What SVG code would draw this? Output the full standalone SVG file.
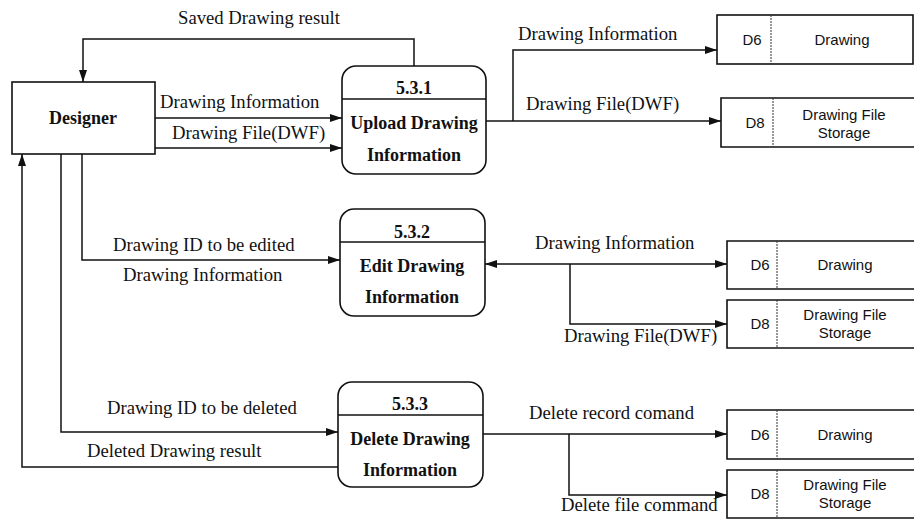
<svg xmlns="http://www.w3.org/2000/svg" width="914" height="522" viewBox="0 0 914 522">
<defs>
<style>
.bg{fill:#fff}
.box{fill:#fff;stroke:#111;stroke-width:1.6}
.ln{fill:none;stroke:#111;stroke-width:1.5}
.div{stroke:#111;stroke-width:1.5}
.dot{stroke:#333;stroke-width:1;stroke-dasharray:2,1}
.lbl{font-family:"Liberation Serif","Times New Roman",serif;font-size:18.7px;fill:#111}
.bold{font-family:"Liberation Serif","Times New Roman",serif;font-size:18px;font-weight:bold;fill:#111;text-anchor:middle}
.st{font-family:"Liberation Sans",Arial,sans-serif;font-size:15px;fill:#111;text-anchor:middle}
</style>
<marker id="arr" markerWidth="12" markerHeight="8" refX="12" refY="4" orient="auto-start-reverse" markerUnits="userSpaceOnUse">
<path d="M0,0 L12,4 L0,8 Z" fill="#111"/>
</marker>
</defs>
<rect class="bg" x="0" y="0" width="914" height="522"/>

<g id="connectors">
<path class="ln" d="M414,66 V39 H83 V82" marker-end="url(#arr)"/>
<path class="ln" d="M155,118 H342" marker-end="url(#arr)"/>
<path class="ln" d="M155,148 H342" marker-end="url(#arr)"/>
<path class="ln" d="M486,121 H721" marker-end="url(#arr)"/>
<path class="ln" d="M513,121 V50 H717" marker-end="url(#arr)"/>
<path class="ln" d="M82,154 V260 H340" marker-end="url(#arr)"/>
<path class="ln" d="M61,154 V432 H338" marker-end="url(#arr)"/>
<path class="ln" d="M338,467 H22 V154" marker-end="url(#arr)"/>
<path class="ln" d="M485,264 H727" marker-start="url(#arr)" marker-end="url(#arr)"/>
<path class="ln" d="M570,264 V324 H727" marker-end="url(#arr)"/>
<path class="ln" d="M483,434 H727" marker-end="url(#arr)"/>
<path class="ln" d="M569,434 V495 H727" marker-end="url(#arr)"/>
</g>

<g id="labels">
<text class="lbl" x="178" y="24">Saved Drawing result</text>
<text class="lbl" x="160" y="108">Drawing Information</text>
<text class="lbl" x="172" y="139">Drawing File(DWF)</text>
<text class="lbl" x="518" y="40">Drawing Information</text>
<text class="lbl" x="526" y="110">Drawing File(DWF)</text>
<text class="lbl" x="113" y="251">Drawing ID to be edited</text>
<text class="lbl" x="123" y="281">Drawing Information</text>
<text class="lbl" x="535" y="249">Drawing Information</text>
<text class="lbl" x="564" y="342">Drawing File(DWF)</text>
<text class="lbl" x="107" y="414">Drawing ID to be deleted</text>
<text class="lbl" x="87" y="457">Deleted Drawing result</text>
<text class="lbl" x="529" y="419">Delete record comand</text>
<text class="lbl" x="561" y="511">Delete file command</text>
</g>

<g id="designer">
<rect class="box" x="12" y="82" width="143" height="72"/>
<text class="bold" x="83" y="124">Designer</text>
</g>

<g id="p531">
<rect class="box" x="342" y="66" width="144" height="108" rx="14"/>
<line class="div" x1="342" y1="99" x2="486" y2="99"/>
<text class="bold" x="414" y="94">5.3.1</text>
<text class="bold" x="414" y="129">Upload Drawing</text>
<text class="bold" x="414" y="161">Information</text>
</g>

<g id="p532">
<rect class="box" x="340" y="209" width="145" height="107" rx="14"/>
<line class="div" x1="340" y1="242" x2="485" y2="242"/>
<text class="bold" x="412" y="238">5.3.2</text>
<text class="bold" x="412" y="272">Edit Drawing</text>
<text class="bold" x="412" y="303">Information</text>
</g>

<g id="p533">
<rect class="box" x="338" y="382" width="145" height="105" rx="14"/>
<line class="div" x1="338" y1="415" x2="483" y2="415"/>
<text class="bold" x="410" y="410">5.3.3</text>
<text class="bold" x="410" y="445">Delete Drawing</text>
<text class="bold" x="410" y="476">Information</text>
</g>

<g id="d6a">
<rect class="box" x="717" y="15" width="196" height="49"/>
<line class="dot" x1="771" y1="15" x2="771" y2="64"/>
<text class="st" x="752" y="45">D6</text>
<text class="st" x="842" y="45">Drawing</text>
</g>

<g id="d8a">
<path class="box" d="M914,98 H721 V147 H914"/>
<line class="dot" x1="773" y1="98" x2="773" y2="147"/>
<text class="st" x="755" y="128">D8</text>
<text class="st" x="844" y="120">Drawing File</text>
<text class="st" x="844" y="138">Storage</text>
</g>

<g id="d6b">
<path class="box" d="M914,241 H727 V289 H914"/>
<line class="dot" x1="777" y1="241" x2="777" y2="289"/>
<text class="st" x="760" y="270">D6</text>
<text class="st" x="845" y="270">Drawing</text>
</g>

<g id="d8b">
<path class="box" d="M914,300 H727 V348 H914"/>
<line class="dot" x1="777" y1="300" x2="777" y2="348"/>
<text class="st" x="760" y="329">D8</text>
<text class="st" x="845" y="320">Drawing File</text>
<text class="st" x="845" y="338">Storage</text>
</g>

<g id="d6c">
<path class="box" d="M914,410 H727 V459 H914"/>
<line class="dot" x1="777" y1="410" x2="777" y2="459"/>
<text class="st" x="760" y="440">D6</text>
<text class="st" x="845" y="440">Drawing</text>
</g>

<g id="d8c">
<path class="box" d="M914,470 H727 V518 H914"/>
<line class="dot" x1="777" y1="470" x2="777" y2="518"/>
<text class="st" x="760" y="499">D8</text>
<text class="st" x="845" y="490">Drawing File</text>
<text class="st" x="845" y="508">Storage</text>
</g>
</svg>
